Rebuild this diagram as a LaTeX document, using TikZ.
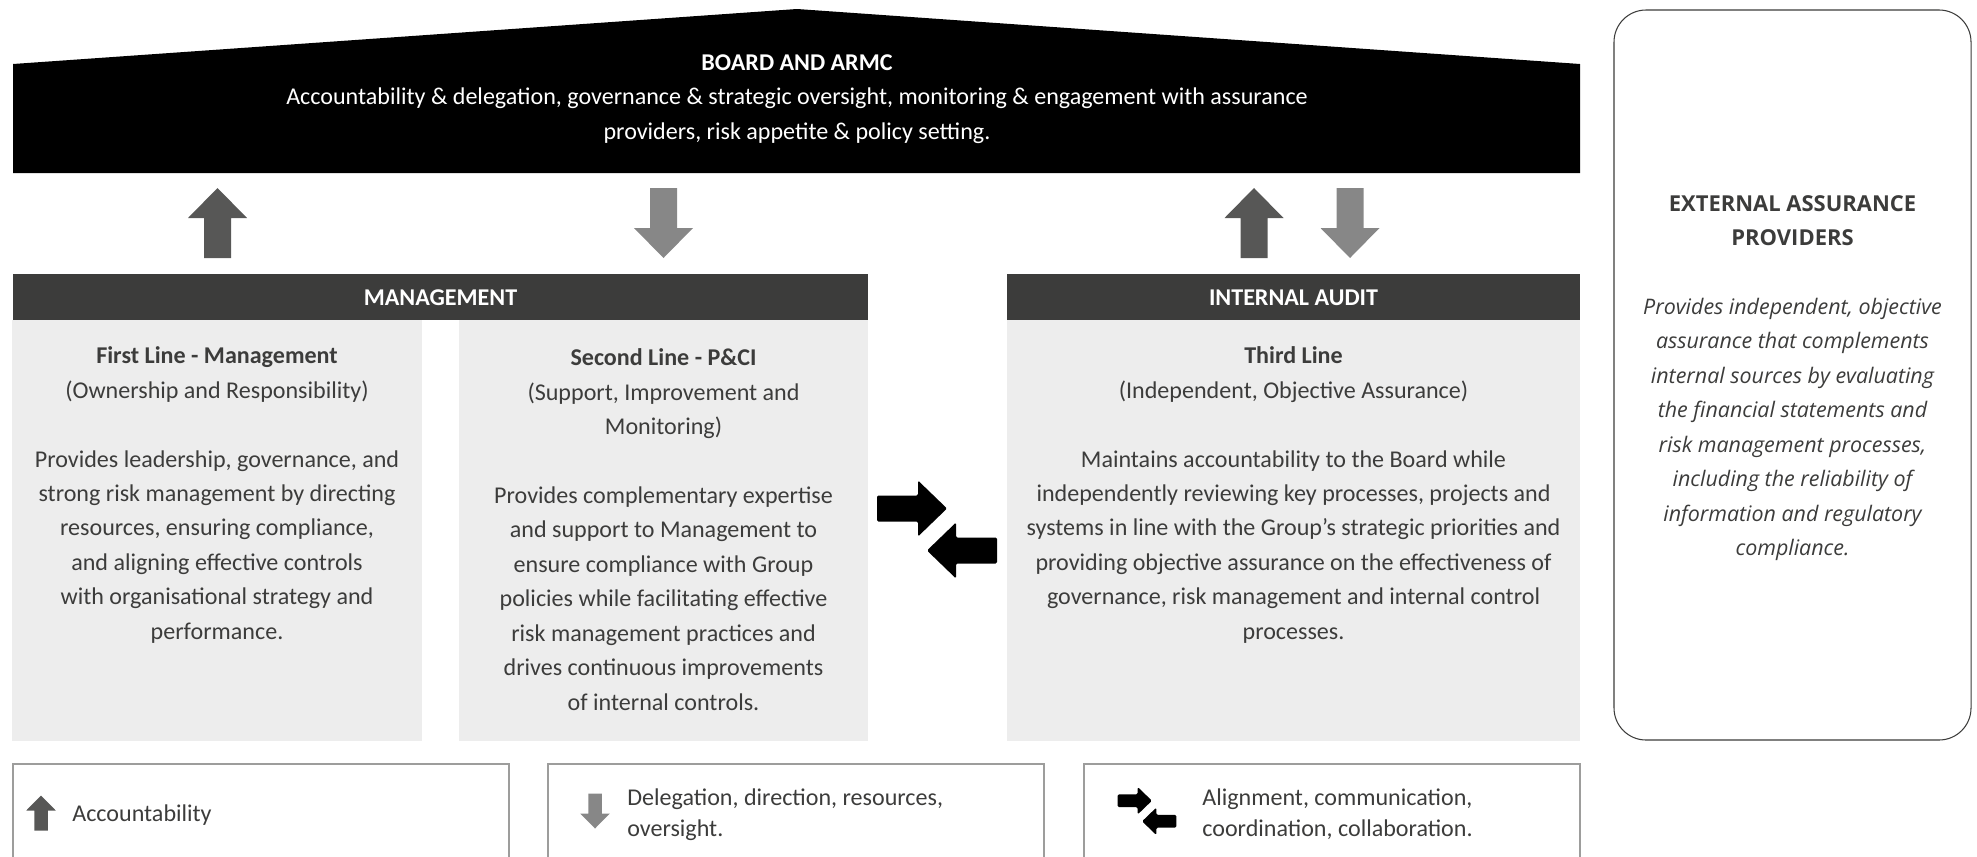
\documentclass[tikz,border=0pt]{standalone}
\usepackage{fontspec}
\setmainfont{Carlito}
\newfontfamily\extfont{Open Sans}

\definecolor{roofblack}{HTML}{000000}
\definecolor{bardark}{HTML}{3C3C3B}
\definecolor{panelgray}{HTML}{EDEDED}
\definecolor{accgray}{HTML}{575756}
\definecolor{delgray}{HTML}{878787}
\definecolor{txtgray}{HTML}{3C3C3B}
\definecolor{rulegray}{HTML}{9D9D9C}

\newcommand{\exthead}[1]{{\upshape\bfseries\fontsize{12.5}{19.6}\selectfont #1}}

\tikzset{
  bodytext/.style={font=\fontsize{13.7}{19.6}\selectfont, text=txtgray, align=center, inner sep=0pt},
  bartitle/.style={font=\fontsize{13.7}{16}\selectfont\bfseries, text=white, inner sep=0pt},
  legendtext/.style={font=\fontsize{13.7}{17.6}\selectfont, text=txtgray, align=left, anchor=west, inner sep=0pt},
  exttext/.style={font=\extfont\itshape\fontsize{12.2}{19.6}\selectfont, text=txtgray, align=center, inner sep=0pt},
  pics/blockarrow/.style={code={
    \fill[#1] (-13.5,-35) -- (-13.5,5) -- (-29.5,5) -- (0,35) -- (29.5,5) -- (13.5,5) -- (13.5,-35) -- cycle;}},
  pics/swaparrows/.style={code={
    \fill[black,rounded corners=0.8pt] (-60,8) -- (-60,34) -- (-19,34) -- (-19,49) -- (10,21) -- (-19,-7) -- (-19,8) -- cycle;
    \fill[black,rounded corners=0.8pt] (60,-8) -- (60,-34) -- (19,-34) -- (19,-49) -- (-10,-21) -- (19,7) -- (19,-8) -- cycle;}}
}

\begin{document}
\begin{tikzpicture}[x=0.02cm,y=0.02cm]
  \useasboundingbox (0,0) rectangle (1977,-856);
  % roof
  \fill[roofblack] (13,-64) -- (797,-9) -- (1580,-64) -- (1580,-173) -- (13,-173) -- cycle;
  \node[bodytext,text=white] (board) at (797,-99) {\textbf{BOARD AND ARMC}\\
    Accountability \& delegation, governance \& strategic oversight, monitoring \& engagement with assurance\\
    providers, risk appetite \& policy setting.};
  % arrows under the roof
  \pic at (217.5,-223) {blockarrow=accgray};
  \pic[rotate=180] at (663.5,-223) {blockarrow=delgray};
  \pic at (1254,-223) {blockarrow=accgray};
  \pic[rotate=180] at (1350,-223) {blockarrow=delgray};
  % bars and panels
  \fill[bardark] (13,-274) rectangle (868,-320);
  \fill[bardark] (1007,-274) rectangle (1580,-320);
  \node[bartitle] (mgmt) at (440.5,-298) {MANAGEMENT};
  \node[bartitle] (audit) at (1293.5,-298) {INTERNAL AUDIT};
  \fill[panelgray] (12,-320) rectangle (422,-741);
  \fill[panelgray] (459,-320) rectangle (868,-741);
  \fill[panelgray] (1007,-320) rectangle (1580,-741);
  \node[bodytext] (first) at (217,-495) {\textbf{First Line - Management}\\
    (Ownership and Responsibility)\\[19.6pt]
    Provides leadership, governance, and\\strong risk management by directing\\
    resources, ensuring compliance,\\and aligning effective controls\\
    with organisational strategy and\\performance.};
  \node[bodytext] (second) at (663.5,-529.5) {\textbf{Second Line - P\&CI}\\
    (Support, Improvement and\\Monitoring)\\[19.6pt]
    Provides complementary expertise\\and support to Management to\\
    ensure compliance with Group\\policies while facilitating effective\\
    risk management practices and\\drives continuous improvements\\
    of internal controls.};
  \node[bodytext] (third) at (1293.5,-495) {\textbf{Third Line}\\
    (Independent, Objective Assurance)\\[19.6pt]
    Maintains accountability to the Board while\\
    independently reviewing key processes, projects and\\
    systems in line with the Group’s strategic priorities and\\
    providing objective assurance on the effectiveness of\\
    governance, risk management and internal control\\processes.};
  \pic at (937,-529.5) {swaparrows};
  % external assurance
  \draw[bardark,line width=0.6pt,rounded corners=0.64cm] (1614,-10) rectangle (1971,-740);
  \node[exttext] (ext) at (1792.5,-378) {\exthead{EXTERNAL ASSURANCE}\\\exthead{PROVIDERS}\\[19.6pt]
    Provides independent, objective\\assurance that complements\\
    internal sources by evaluating\\the financial statements and\\
    risk management processes,\\including the reliability of\\
    information and regulatory\\compliance.};
  % legend
  \foreach \x in {13,548,1084}{
    \draw[rulegray,line width=0.6pt] (\x,-860) -- (\x,-764) -- (\x+496,-764) -- (\x+496,-860);
    \draw[rulegray,line width=1.1pt] (\x,-764) -- (\x+496,-764);
  }
  \pic[scale=0.5] at (41,-813) {blockarrow=accgray};
  \node[legendtext] (acc) at (72,-815) {Accountability};
  \pic[scale=0.5,rotate=180] at (595,-811) {blockarrow=delgray};
  \node[legendtext] (deleg) at (627,-814.5) {Delegation, direction, resources,\\oversight.};
  \pic[scale=0.49] at (1147,-811) {swaparrows};
  \node[legendtext] (align) at (1202,-814.5) {Alignment, communication,\\coordination, collaboration.};
\end{tikzpicture}
\end{document}
